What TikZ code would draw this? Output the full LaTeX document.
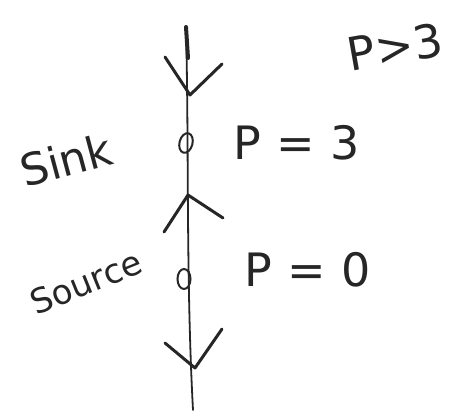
\documentclass[tikz,border=0pt]{standalone}
\usepackage{fontspec}
\setmainfont{DejaVu Sans}
\usetikzlibrary{shapes.geometric}
\tikzset{
  axis/.style={line width=1.8pt, line cap=round, draw=black!85},
  barb/.style={line width=3pt, line cap=round, line join=round, draw=black!85},
  eqpt/.style={ellipse, draw=black!85, line width=2pt, minimum width=13pt, minimum height=20pt, inner sep=0pt},
  lbl/.style={font=\fontsize{46}{46}\selectfont, text=black!85, inner sep=0pt},
  side/.style={text=black!85, inner sep=0pt}
}
\begin{document}
\begin{tikzpicture}[x=1pt,y=-1pt]
  \useasboundingbox (0,0) rectangle (455,417);
  % phase line
  \coordinate (top) at (186,27);
  \coordinate (bot) at (193,410);
  \draw[axis] (top) .. controls (189,150) and (186,280) .. (bot);
  % equilibria
  \node[eqpt, rotate=-15] (sink) at (186,143) {};
  \node[eqpt] (source) at (184,279) {};
  % arrowheads
  \coordinate (v1) at (190,95);
  \coordinate (v2) at (188,195);
  \coordinate (v3) at (195,368);
  \draw[barb] (165,57) -- (v1) -- (222,64);
  \draw[line width=4pt, line cap=round, draw=black!85] (186,27) -- (188,58);
  \draw[barb] (164,232) -- (v2) -- (223,218);
  \draw[barb] (165,343) -- (v3) -- (222,329);
  % labels
  \node[lbl] (p3) at (297,143) {P\,\,=\,\,3};
  \node[lbl] (p0) at (308,270) {P\,\,=\,\,0};
  \node[lbl, rotate=10] (pg) at (395,47) {P>3};
  \node[side, font=\fontsize{44}{44}\selectfont, rotate=15] (sk) at (66,160) {Sink};
  \node[side, font=\fontsize{34}{34}\selectfont, rotate=22] (sr) at (86,282) {Source};
\end{tikzpicture}
\end{document}
